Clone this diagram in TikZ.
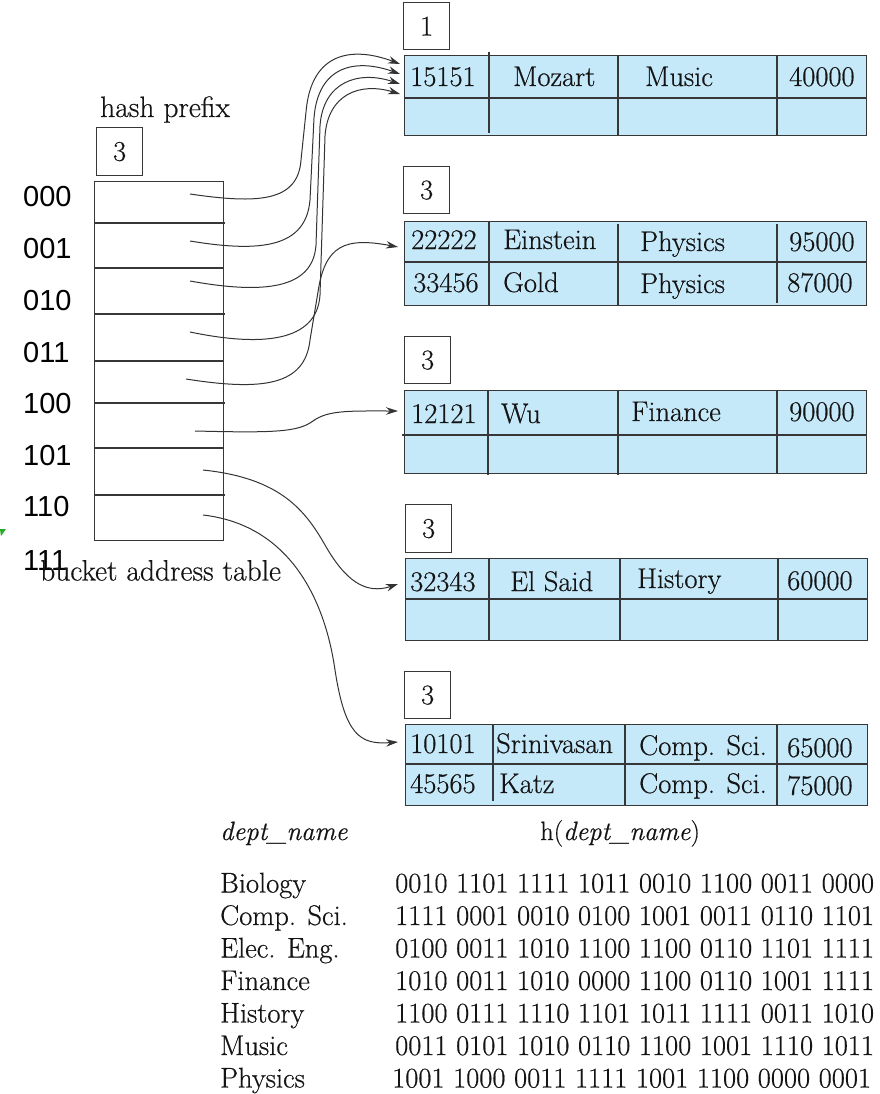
\documentclass[tikz,border=0pt]{standalone}
\usepackage{fontspec}
\setmainfont{Latin Modern Roman}[FakeBold=0.5]
\newfontfamily\lsans{Liberation Sans}
\usetikzlibrary{arrows.meta}
\definecolor{cellblue}{RGB}{198,233,250}
\definecolor{lncol}{RGB}{55,55,55}
\definecolor{txtcol}{RGB}{20,20,20}
\definecolor{tickgreen}{RGB}{40,170,40}
\newcommand{\tabfont}{\fontsize{28.5}{32}\selectfont}
\begin{document}
\begin{tikzpicture}[x=1pt,y=-1pt,
  tbl/.style={fill=cellblue, draw=lncol, line width=1.3pt, inner sep=0, anchor=north west},
  divline/.style={draw=lncol, line width=1.3pt},
  lbox/.style={draw=lncol, line width=1.2pt, minimum width=46pt, minimum height=47pt, inner sep=0, anchor=north west, font=\tabfont, text=txtcol},
  txt/.style={anchor=base west, inner sep=0, font=\tabfont, text=txtcol},
  bin/.style={anchor=base west, inner sep=0, font=\lsans\fontsize{29}{30}\selectfont, text=black},
  rowline/.style={draw=lncol, line width=1.1pt},
  conn/.style={draw=black!80, line width=1pt, -{Stealth[length=12pt,width=7.5pt]}}]
\useasboundingbox (0,0) rectangle (880,1094);

% ---------- bucket address table ----------
\node[bin] (n000) at (23,207) {000};
\node[bin] (n001) at (23,258) {001};
\node[bin] (n010) at (23,310) {010};
\node[bin] (n011) at (23,362.5) {011};
\node[bin] (n100) at (23,413) {100};
\node[bin] (n101) at (23,465) {101};
\node[bin] (n110) at (23,516.5) {110};
\node[bin] (n111) at (23,570) {111};

\node[txt] (hpt) at (100,117) {\fontsize{29.5}{32}\selectfont hash prefix};
\node[lbox, minimum height=48pt] (hp) at (96,127) {3};

\node[draw=lncol, line width=1.1pt, minimum width=129pt, minimum height=359pt, inner sep=0, anchor=north west] (bat) at (94,181) {};
\draw[rowline] (94,223) -- (225,223);
\draw[rowline] (94,268) -- (223,268);
\draw[rowline] (94,314) -- (225,314);
\draw[draw=lncol, line width=2.2pt] (94,361) -- (223,361);
\draw[rowline] (94,403) -- (225,403);
\draw[rowline] (94,448) -- (223,448);
\draw[rowline] (94,495) -- (225,495);

\node[txt] (batt) at (40,580.5) {\fontsize{29.5}{32}\selectfont bucket address table};

% tiny green mark
\fill[tickgreen] (0,529) -- (6,529) -- (1,536) -- cycle;

% ---------- buckets ----------
% bucket 1
\node[lbox] (l1) at (403,2) {1};
\node[tbl, minimum width=462pt, minimum height=80pt] (b1) at (404,55) {};
\draw[divline] (404,98) -- (866,98);
\draw[divline] (489,52) -- (489,133);
\draw[divline] (618,55) -- (618,135);
\draw[divline] (777,55) -- (777,135);
\node[txt] (b1a) at (410,86) {15151};
\node[txt] (b1b) at (513,86) {Mozart};
\node[txt] (b1c) at (645,86) {Music};
\node[txt] (b1d) at (789,86) {40000};

% bucket 2
\node[lbox] (l2) at (403,166) {3};
\node[tbl, minimum width=462pt, minimum height=84pt] (b2) at (404,221) {};
\draw[divline] (404,262) -- (866,262);
\draw[divline] (489,221) -- (489,305);
\draw[divline] (618,224) -- (618,305);
\draw[divline] (777,224) -- (777,303);
\node[txt] (b2a) at (411,249) {22222};
\node[txt] (b2b) at (503,249) {Einstein};
\node[txt] (b2c) at (640,251) {Physics};
\node[txt] (b2d) at (789,251) {95000};
\node[txt] (b2e) at (413,292) {33456};
\node[txt] (b2f) at (503,292) {Gold};
\node[txt] (b2g) at (640,293) {Physics};
\node[txt] (b2h) at (787,292) {87000};

% bucket 3
\node[lbox] (l3) at (404,336) {3};
\node[tbl, minimum width=462pt, minimum height=83pt] (b3) at (404,390) {};
\draw[divline] (402,435) -- (866,435);
\draw[divline] (488,390) -- (488,475);
\draw[divline] (618,390) -- (618,475);
\draw[divline] (777,390) -- (777,473);
\node[txt] (b3a) at (411,423) {12121};
\node[txt] (b3b) at (501,423) {Wu};
\node[txt] (b3c) at (631,421) {Finance};
\node[txt] (b3d) at (789,421) {90000};

% bucket 4
\node[lbox, minimum height=48pt] (l4) at (405,504) {3};
\node[tbl, minimum width=462pt, minimum height=82pt] (b4) at (405,558) {};
\draw[divline] (405,599) -- (867,599);
\draw[divline] (489,558) -- (489,640);
\draw[divline] (620,558) -- (620,640);
\draw[divline] (778,558) -- (778,640);
\node[txt] (b4a) at (410,591) {32343};
\node[txt] (b4b) at (510,591) {El Said};
\node[txt] (b4c) at (637,588) {History};
\node[txt] (b4d) at (787,590) {60000};

% bucket 5
\node[lbox] (l5) at (404,671) {3};
\node[tbl, minimum width=462pt, minimum height=81pt] (b5) at (405,724) {};
\draw[divline] (405,764) -- (867,764);
\draw[divline] (493,724) -- (493,801);
\draw[divline] (625,724) -- (625,805);
\draw[divline] (777,724) -- (777,805);
\node[txt] (b5a) at (410,753) {10101};
\node[txt] (b5b) at (496,753) {Srinivasan};
\node[txt] (b5c) at (639,755) {Comp. Sci.};
\node[txt] (b5d) at (787,757) {65000};
\node[txt] (b5e) at (410,793) {45565};
\node[txt] (b5f) at (499,793) {Katz};
\node[txt] (b5g) at (639,793) {Comp. Sci.};
\node[txt] (b5h) at (787,795) {75000};

% ---------- connectors ----------
\coordinate (s0) at (190,194);
\coordinate (s1) at (190,241);
\coordinate (s2) at (190,281);
\coordinate (s3) at (190,332);
\coordinate (s4) at (186,379);
\coordinate (s5) at (195,431);
\coordinate (s6) at (203,470);
\coordinate (s7) at (203,515);
\coordinate (t0) at (400,64);
\coordinate (t1) at (400,74);
\coordinate (t2) at (400,84);
\coordinate (t3) at (400,94);
\coordinate (t4) at (398,247);
\coordinate (t5) at (398,411);
\coordinate (t6) at (398,584);
\coordinate (t7) at (398,742);

\draw[conn] (s0) .. controls (258,204) and (298,202) .. (301,160) -- (306,112) .. controls (311,52) and (352,46) .. (t0);
\draw[conn] (s1) .. controls (262,253) and (306,247) .. (310,200) -- (314,118) .. controls (318,66) and (355,58) .. (t1);
\draw[conn] (s2) .. controls (262,294) and (313,290) .. (316,245) -- (320,126) .. controls (323,82) and (358,70) .. (t2);
\draw[conn] (s3) .. controls (262,347) and (317,342) .. (320,295) -- (325,136) .. controls (328,94) and (360,82) .. (t3);
\draw[conn] (s4) .. controls (262,391) and (305,386) .. (310,340) -- (318,292) .. controls (325,245) and (345,237) .. (t4);
\draw[conn] (s5) .. controls (275,433) and (298,432) .. (313,421) .. controls (328,410) and (350,411) .. (t5);
\draw[conn] (s6) .. controls (280,478) and (305,510) .. (325,545) .. controls (345,580) and (365,595) .. (t6);
\draw[conn] (s7) .. controls (290,525) and (325,600) .. (335,670) .. controls (345,735) and (360,745) .. (t7);

% ---------- hash function table ----------
\node[txt] (hd) at (220,840) {\fontsize{26.5}{30}\selectfont\itshape dept\_name};
\node[txt] (hh) at (540,840) {\fontsize{26.5}{30}\selectfont h(\textit{dept\_name})};

\node[txt] (d1) at (220,892.5) {Biology};
\node[txt] (d2) at (220,925) {Comp. Sci.};
\node[txt] (d3) at (220,957.5) {Elec. Eng.};
\node[txt] (d4) at (220,990) {Finance};
\node[txt] (d5) at (220,1022.5) {History};
\node[txt] (d6) at (220,1055) {Music};
\node[txt] (d7) at (220,1087.5) {Physics};

\node[txt] (h1) at (395,892.5) {0010 1101 1111 1011 0010 1100 0011 0000};
\node[txt] (h2) at (395,925) {1111 0001 0010 0100 1001 0011 0110 1101};
\node[txt] (h3) at (395,957.5) {0100 0011 1010 1100 1100 0110 1101 1111};
\node[txt] (h4) at (395,990) {1010 0011 1010 0000 1100 0110 1001 1111};
\node[txt] (h5) at (395,1022.5) {1100 0111 1110 1101 1011 1111 0011 1010};
\node[txt] (h6) at (395,1055) {0011 0101 1010 0110 1100 1001 1110 1011};
\node[txt] (h7) at (392,1087.5) {1001 1000 0011 1111 1001 1100 0000 0001};
\end{tikzpicture}
\end{document}
